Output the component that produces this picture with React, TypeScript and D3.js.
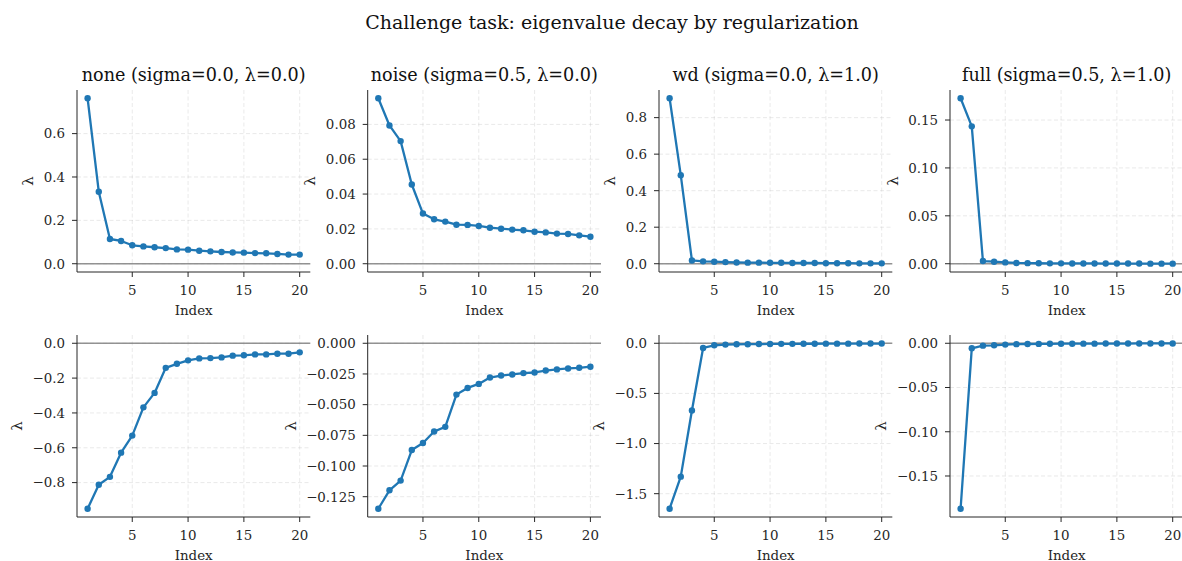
import React from "react";
import * as d3 from "d3";

const INDEX = [1, 2, 3, 4, 5, 6, 7, 8, 9, 10, 11, 12, 13, 14, 15, 16, 17, 18, 19, 20];
const X_TICKS = [5, 10, 15, 20];

const SUPTITLE = "Challenge task: eigenvalue decay by regularization";
const COLUMN_TITLES = [
  "none (sigma=0.0, λ=0.0)",
  "noise (sigma=0.5, λ=0.0)",
  "wd (sigma=0.0, λ=1.0)",
  "full (sigma=0.5, λ=1.0)",
];

const noneTop = [0.763, 0.332, 0.114, 0.105, 0.085, 0.080, 0.076, 0.072, 0.066, 0.065, 0.060, 0.057, 0.054, 0.052, 0.051, 0.049, 0.048, 0.045, 0.042, 0.042];
const noiseTop = [0.095, 0.0794, 0.0704, 0.0455, 0.0288, 0.0255, 0.0242, 0.0224, 0.0223, 0.0217, 0.0207, 0.0201, 0.0196, 0.0192, 0.0184, 0.0180, 0.0173, 0.0171, 0.0163, 0.0155];
const wdTop = [0.906, 0.485, 0.018, 0.013, 0.011, 0.009, 0.007, 0.006, 0.006, 0.005, 0.005, 0.004, 0.004, 0.004, 0.003, 0.003, 0.003, 0.002, 0.002, 0.002];
const fullTop = [0.1727, 0.1434, 0.0028, 0.0021, 0.0014, 0.0008, 0.0006, 0.0005, 0.0004, 0.0004, 0.0003, 0.0003, 0.0003, 0.0002, 0.0002, 0.0002, 0.0002, 0.0001, 0.0001, 0.0001];

const noneBottom = [-0.950, -0.812, -0.767, -0.628, -0.530, -0.368, -0.285, -0.141, -0.118, -0.098, -0.087, -0.085, -0.081, -0.071, -0.069, -0.064, -0.064, -0.060, -0.060, -0.052];
const noiseBottom = [-0.1348, -0.1198, -0.1119, -0.0870, -0.0812, -0.0719, -0.0681, -0.0418, -0.0364, -0.0331, -0.0279, -0.0263, -0.0254, -0.0243, -0.0238, -0.0222, -0.0213, -0.0205, -0.0200, -0.0191];
const wdBottom = [-1.65, -1.33, -0.67, -0.047, -0.020, -0.013, -0.010, -0.009, -0.008, -0.007, -0.006, -0.006, -0.005, -0.005, -0.004, -0.004, -0.004, -0.003, -0.003, -0.003];
const fullBottom = [-0.187, -0.0057, -0.0027, -0.0023, -0.0015, -0.0010, -0.0008, -0.0007, -0.0006, -0.0005, -0.0005, -0.0004, -0.0004, -0.0003, -0.0003, -0.0003, -0.0002, -0.0002, -0.0002, -0.0002];

const noneTopTicks = ["0.0", "0.2", "0.4", "0.6"];
const noiseTopTicks = ["0.00", "0.02", "0.04", "0.06", "0.08"];
const wdTopTicks = ["0.0", "0.2", "0.4", "0.6", "0.8"];
const fullTopTicks = ["0.00", "0.05", "0.10", "0.15"];
const noneBottomTicks = ["0.0", "−0.2", "−0.4", "−0.6", "−0.8"];
const noiseBottomTicks = ["0.000", "−0.025", "−0.050", "−0.075", "−0.100", "−0.125"];
const wdBottomTicks = ["0.0", "−0.5", "−1.0", "−1.5"];
const fullBottomTicks = ["0.00", "−0.05", "−0.10", "−0.15"];

const ROWS = [
  [noneTop, noiseTop, wdTop, fullTop],
  [noneBottom, noiseBottom, wdBottom, fullBottom],
];
const ROW_TICKS = [
  [noneTopTicks, noiseTopTicks, wdTopTicks, fullTopTicks],
  [noneBottomTicks, noiseBottomTicks, wdBottomTicks, fullBottomTicks],
];

const W = 1182;
const H = 561;
const COL_LEFT = [77, 367.7, 659, 950];
const AX_W = 233.3;
const ROW_TOP = [90, 335];
const AX_H = 182;
const FONT = "'DejaVu Serif', serif";
const BLUE = "#1f77b4";
const TICK_FS = 13.4;
const INK = "#262626";

function textWidth(s: string, fs: number) {
  let w = 0;
  for (const c of s) {
    if (c === ".") w += 0.318;
    else if (c === "−") w += 0.838;
    else w += 0.636;
  }
  return w * fs;
}

function Panel({ values, ticks, left, top, title }: { values: number[]; ticks: string[]; left: number; top: number; title?: string }) {
  const lo = Math.min(0, d3.min(values) as number);
  const hi = Math.max(0, d3.max(values) as number);
  const pad = (hi - lo) * 0.05;
  const y = d3.scaleLinear().domain([lo - pad, hi + pad]).range([top + AX_H, top]);
  const x = d3.scaleLinear().domain([0.05, 20.95]).range([left, left + AX_W]);
  const line = d3.line<number>().x((_, i) => x(INDEX[i])).y((d) => y(d));
  const tickVals = ticks.map((t) => parseFloat(t.replace("−", "-")));
  const maxW = d3.max(ticks, (t) => textWidth(t, TICK_FS)) as number;
  const bottom = top + AX_H;
  const right = left + AX_W;
  const labelX = left - 12 - maxW - 10.5;
  return (
    <g>
      {X_TICKS.map((t) => (
        <line key={"gx" + t} x1={x(t)} x2={x(t)} y1={top} y2={bottom} stroke="#b0b0b0" strokeOpacity={0.35} strokeWidth={0.8} strokeDasharray="4,2.5" />
      ))}
      {tickVals.map((t, i) => (
        <line key={"gy" + i} x1={left} x2={right} y1={y(t)} y2={y(t)} stroke="#b0b0b0" strokeOpacity={0.35} strokeWidth={0.8} strokeDasharray="4,2.5" />
      ))}
      <line x1={left} x2={right} y1={y(0)} y2={y(0)} stroke="#808080" strokeOpacity={0.85} strokeWidth={1.3} />
      <path d={line(values) || ""} fill="none" stroke={BLUE} strokeWidth={2.3} strokeLinejoin="round" />
      {values.map((v, i) => (
        <circle key={i} cx={x(INDEX[i])} cy={y(v)} r={3.2} fill={BLUE} />
      ))}
      <line x1={left} x2={left} y1={top} y2={bottom} stroke={INK} strokeWidth={1} />
      <line x1={left} x2={right} y1={bottom} y2={bottom} stroke={INK} strokeWidth={1} />
      {X_TICKS.map((t) => (
        <g key={"xt" + t}>
          <line x1={x(t)} x2={x(t)} y1={bottom} y2={bottom + 5} stroke={INK} strokeWidth={1} />
          <text x={x(t)} y={bottom + 23} textAnchor="middle" fontFamily={FONT} fontSize={TICK_FS} fill={INK}>{t}</text>
        </g>
      ))}
      {tickVals.map((t, i) => (
        <g key={"yt" + i}>
          <line x1={left - 5} x2={left} y1={y(t)} y2={y(t)} stroke={INK} strokeWidth={1} />
          <text x={left - 12} y={y(t)} dy="0.36em" textAnchor="end" fontFamily={FONT} fontSize={TICK_FS} fill={INK}>{ticks[i]}</text>
        </g>
      ))}
      <text x={(left + right) / 2} y={bottom + 42.5} textAnchor="middle" fontFamily={FONT} fontSize={13.4} fill={INK}>Index</text>
      <text transform={`translate(${labelX},${(top + bottom) / 2}) rotate(-90)`} textAnchor="middle" fontFamily={FONT} fontSize={15} fill={INK}>λ</text>
      {title && (
        <text x={(left + right) / 2} y={top - 9} textAnchor="middle" fontFamily={FONT} fontSize={17.6} fill="#111">{title}</text>
      )}
    </g>
  );
}

export default function App() {
  return (
    <svg width={W} height={H} style={{ position: "absolute", left: 0, top: 0, background: "#fff" }}>
      <rect x={0} y={0} width={W} height={H} fill="#fff" />
      <text x={612} y={29} textAnchor="middle" fontFamily={FONT} fontSize={19} fill="#111">{SUPTITLE}</text>
      {ROWS.map((row, r) =>
        row.map((vals, c) => (
          <Panel key={r + "-" + c} values={vals} ticks={ROW_TICKS[r][c]} left={COL_LEFT[c]} top={ROW_TOP[r]} title={r === 0 ? COLUMN_TITLES[c] : undefined} />
        ))
      )}
    </svg>
  );
}
